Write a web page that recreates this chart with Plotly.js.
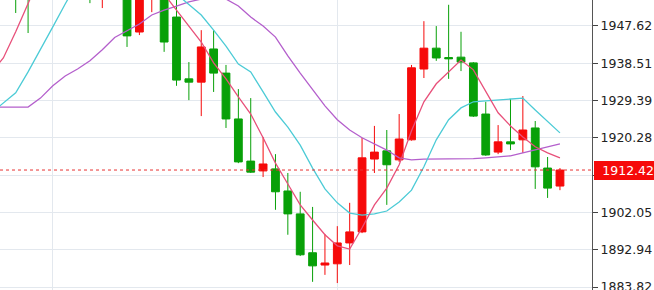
<!DOCTYPE html>
<html>
<head>
<meta charset="utf-8">
<script src="https://cdn.plot.ly/plotly-3.0.1.min.js"></script>
<style>html,body{margin:0;padding:0;background:#fff;}#chart{width:654px;height:290px;}</style>
</head>
<body>
<div id="chart"></div>
<script>
// Candle index (bars)
const barIdx = [0,1,2,3,4,5,6,7,8,9,10,11,12,13,14,15,16,17,18,19,20,21,22,23,24,25,26,27,28,29,30,31,32,33,34,35,36,37,38,39,40,41,42,43,44];
const openV  = [1962,1960,1958,1964,1968,1963,1966,1958,1962,1956,1946.15,1955,1958,1949.8,1934.7,1933.9,1942.0,1936.1,1924.9,1914.6,1912.2,1912.7,1907.3,1901.7,1892.2,1889.2,1889.5,1894.6,1897.3,1915.1,1917.1,1914.9,1919.8,1937.1,1942.2,1939.9,1940.0,1938.6,1926.1,1916.8,1919.3,1919.8,1922.7,1912.9,1908.5];
const highV  = [1963,1961,1966,1970,1971,1968,1967,1964,1963,1958,1958,1961,1960,1955.5,1938.8,1946.6,1946.6,1938.1,1932.2,1930.0,1920.5,1916.3,1911.7,1907.1,1903.4,1896.8,1898.7,1904.4,1920.3,1923.2,1922.2,1926.1,1938.1,1948.8,1947.6,1952.8,1946.2,1938.8,1929.1,1923.4,1929.8,1930.5,1924.4,1915.6,1912.9];
const lowV   = [1950.8,1945.9,1956,1962,1961,1960,1953.2,1952.0,1955,1942.5,1945.4,1951.0,1941.3,1933.0,1929.5,1925.6,1931.5,1922.7,1914.1,1911.7,1910.7,1902.7,1896.6,1891.4,1885.1,1886.8,1884.8,1889.2,1897.0,1911.7,1903.9,1914.4,1919.6,1934.9,1939.1,1934.7,1936.6,1925.4,1915.9,1916.3,1917.3,1916.6,1907.8,1905.6,1907.5];
const closeV = [1956,1957,1964,1968,1963,1966,1959,1962,1957,1945.2,1956,1959,1943.7,1934.4,1933.9,1942.5,1936.1,1924.9,1914.4,1911.9,1913.9,1907.1,1901.7,1891.7,1889.0,1889.7,1894.6,1897.3,1915.4,1916.8,1913.7,1920.0,1937.4,1942.2,1939.8,1939.6,1938.8,1925.6,1916.1,1919.3,1918.8,1922.2,1913.2,1908.0,1912.42];

// Moving averages (index -2 .. 44)
const maIdx = [-2,-1,0,1,2,3,4,5,6,7,8,9,10,11,12,13,14,15,16,17,18,19,20,21,22,23,24,25,26,27,28,29,30,31,32,33,34,35,36,37,38,39,40,41,42,43,44];
const maFast = [1936.1,1939.8,1946.2,1952.8,1960.0,1963,1965,1965,1964,1963,1962,1960,1958,1957,1955.4,1951.5,1947.6,1943.7,1938.6,1934.7,1930.3,1926.1,1920.3,1914.1,1909.0,1903.9,1900.2,1896.6,1893.9,1893.1,1898.3,1903.9,1908.0,1913.7,1922.0,1929.1,1933.5,1936.4,1939.3,1936.9,1931.5,1926.4,1923.2,1920.5,1918.1,1916.6,1915.4];
const maMid  = [1926.3,1928.8,1931.3,1936.4,1941.8,1947.4,1953.0,1958.3,1961,1962,1963,1962,1961,1960,1958,1955.4,1953.0,1950.3,1946.6,1942.7,1938.3,1936.4,1931.5,1926.6,1922.9,1918.5,1912.9,1907.8,1904.4,1901.9,1901.4,1901.7,1902.4,1904.6,1907.5,1913.2,1919.8,1924.7,1927.6,1929.1,1929.3,1929.5,1929.8,1930.0,1927.1,1924.2,1921.5];
const maSlow = [1927.8,1927.8,1927.8,1927.8,1930.0,1933.0,1935.4,1937.1,1939.1,1941.8,1944.8,1946.4,1948.1,1950.3,1951.5,1952.5,1953.5,1954.2,1954.7,1954.2,1952.5,1949.8,1947.6,1944.9,1940.3,1936.1,1932.0,1928.1,1924.7,1922.2,1920.3,1918.8,1917.3,1915.4,1914.9,1915.1,1915.1,1915.1,1915.1,1915.2,1915.4,1915.6,1915.9,1916.6,1917.3,1918.1,1918.8];

const yTicks = [1883.82,1892.94,1902.05,1911.17,1920.28,1929.39,1938.51,1947.62];
const yTickText = ['1883.82','1892.94','1902.05','','1920.28','1929.39','1938.51','1947.62'];
const lastPrice = 1912.42;
const lastPriceText = '1912.42';

const RED = '#f60a0a', GREEN = '#08a008';
const FONT = 'DejaVu Sans, Verdana, sans-serif';

const traces = [
  {type:'scatter', mode:'lines', x:maIdx, y:maSlow, line:{color:'#b45fcc', width:1.3}, hoverinfo:'skip'},
  {type:'scatter', mode:'lines', x:maIdx, y:maMid, line:{color:'#4ccbd6', width:1.3}, hoverinfo:'skip'},
  {type:'candlestick', x:barIdx, open:openV, high:highV, low:lowV, close:closeV,
   whiskerwidth:0,
   increasing:{line:{color:RED, width:1}, fillcolor:RED},
   decreasing:{line:{color:GREEN, width:1}, fillcolor:GREEN},
   hoverinfo:'skip'},
  {type:'scatter', mode:'lines', x:maIdx, y:maFast, line:{color:'#e8507a', width:1.3}, hoverinfo:'skip'}
];

const layout = {
  width:654, height:290,
  margin:{l:0, r:62, t:0, b:0, pad:0},
  paper_bgcolor:'#ffffff', plot_bgcolor:'#ffffff',
  showlegend:false, hovermode:false,
  boxgap:0.1,
  xaxis:{range:[-1.27, 46.59], showticklabels:false, tickvals:[3,26], ticks:'',
         showgrid:true, gridcolor:'#e3e8ee', gridwidth:1, zeroline:false, showline:false,
         rangeslider:{visible:false}, fixedrange:true},
  yaxis:{side:'right', range:[1883.10, 1953.97], tickmode:'array', tickvals:yTicks, ticktext:yTickText,
         ticks:'outside', ticklen:5, tickcolor:'#444', tickwidth:1,
         showline:true, linecolor:'#555', linewidth:1, mirror:false,
         showgrid:true, gridcolor:'#e3e8ee', gridwidth:1, zeroline:false,
         ticklabeloverflow:'allow',
         tickfont:{family:FONT, size:12.5, color:'#222'}, fixedrange:true},
  shapes:[{type:'line', xref:'paper', x0:0, x1:1, yref:'y', y0:lastPrice, y1:lastPrice,
           line:{color:'#e83232', width:1, dash:'dot'}}],
  annotations:[{xref:'paper', x:1, xanchor:'left', xshift:2, yref:'y', y:lastPrice, yanchor:'middle',
                text:lastPriceText, showarrow:false, bgcolor:RED, borderpad:2, borderwidth:0,
                width:58, align:'right',
                font:{family:FONT, size:12.5, color:'#ffffff'}}]
};

Plotly.newPlot('chart', traces, layout, {displayModeBar:false, staticPlot:true});
</script>
</body>
</html>
